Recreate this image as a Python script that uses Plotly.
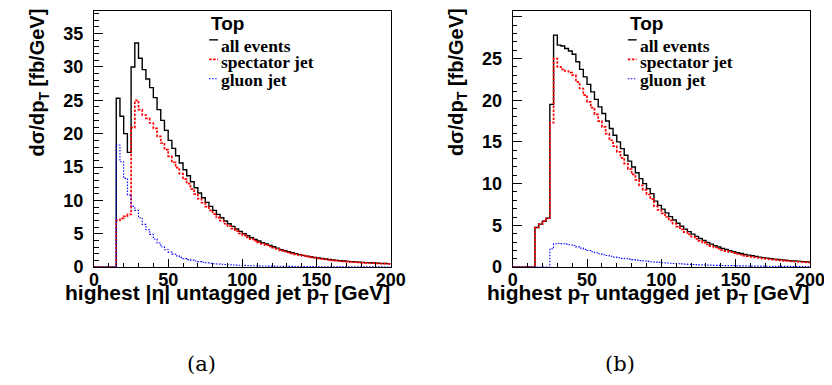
import numpy as np
import plotly.graph_objects as go

# ---------------- data (2.5 GeV bins, 0-200 GeV) ----------------
bin_width = 2.5
bin_edges = np.arange(0, 200 + bin_width, bin_width)  # 81 edges

# (a) highest |eta| untagged jet pT
all_a = [0, 0, 0, 0, 0, 0, 25.3, 22.6, 20.0, 17.2,
         30.0, 33.6, 31.3, 29.6, 28.2, 26.9, 25.4, 23.6, 22.0, 20.5,
         19.0, 17.8, 16.7, 15.6, 14.6, 13.7, 12.8, 11.9, 11.1, 10.4,
         9.7, 9.1, 8.5, 7.9, 7.4, 6.9, 6.5, 6.1, 5.7, 5.35,
         5.0, 4.7, 4.4, 4.15, 3.9, 3.65, 3.45, 3.25, 3.05, 2.85,
         2.6, 2.45, 2.3, 2.15, 2.0, 1.87, 1.75, 1.64, 1.54, 1.45,
         1.37, 1.29, 1.21, 1.14, 1.07, 1.01, 0.96, 0.91, 0.86, 0.82,
         0.78, 0.74, 0.71, 0.67, 0.64, 0.61, 0.58, 0.56, 0.54, 0.52]
spect_a = [0, 0, 0, 0, 0, 0, 7.0, 7.3, 7.6, 7.9,
           20.9, 25.0, 23.6, 22.8, 22.3, 21.6, 20.8, 19.6, 18.6, 17.6,
           16.6, 15.7, 14.9, 14.0, 13.2, 12.5, 11.7, 10.95, 10.25, 9.65,
           9.05, 8.5, 7.95, 7.42, 6.96, 6.5, 6.13, 5.76, 5.39, 5.06,
           4.74, 4.45, 4.18, 3.93, 3.7, 3.47, 3.28, 3.09, 2.9, 2.72,
           2.48, 2.34, 2.2, 2.05, 1.91, 1.78, 1.67, 1.56, 1.47, 1.38,
           1.31, 1.23, 1.15, 1.09, 1.02, 0.96, 0.91, 0.87, 0.82, 0.78,
           0.74, 0.7, 0.67, 0.64, 0.61, 0.58, 0.55, 0.53, 0.51, 0.49]
gluon_a = [0, 0, 0, 0, 0, 0, 18.3, 15.8, 13.3, 10.8,
           9.1, 8.5, 7.4, 6.4, 5.6, 4.9, 4.2, 3.6, 3.05, 2.6,
           2.25, 1.95, 1.68, 1.45, 1.27, 1.12, 1.05, 0.92, 0.82, 0.72,
           0.64, 0.57, 0.51, 0.46, 0.42, 0.38, 0.35, 0.32, 0.29, 0.27,
           0.25, 0.23, 0.21, 0.2, 0.18, 0.17, 0.16, 0.15, 0.14, 0.13,
           0.12, 0.11, 0.1, 0.1, 0.09, 0.09, 0.08, 0.08, 0.07, 0.07,
           0.06, 0.06, 0.06, 0.05, 0.05, 0.05, 0.05, 0.04, 0.04, 0.04,
           0.04, 0.04, 0.03, 0.03, 0.03, 0.03, 0.03, 0.03, 0.02, 0.02]

# (b) highest pT untagged jet pT
all_b = [0, 0, 0, 0, 0, 0, 4.75, 5.15, 5.5, 5.85,
         19.5, 27.8, 26.6, 26.5, 26.2, 25.9, 25.5, 24.6, 23.7, 22.8,
         21.9, 21.0, 20.1, 19.2, 18.4, 17.5, 16.6, 15.8, 15.0, 14.2,
         13.4, 12.7, 12.0, 11.3, 10.6, 10.0, 9.4, 8.8, 7.9, 7.4,
         6.95, 6.5, 6.05, 5.65, 5.25, 4.9, 4.55, 4.25, 3.95, 3.68,
         3.42, 3.18, 2.95, 2.75, 2.56, 2.4, 2.24, 2.1, 1.96, 1.84,
         1.72, 1.62, 1.52, 1.43, 1.35, 1.27, 1.2, 1.13, 1.07, 1.01,
         0.96, 0.91, 0.86, 0.82, 0.78, 0.74, 0.71, 0.68, 0.65, 0.62]
spect_b = [0, 0, 0, 0, 0, 0, 4.75, 5.15, 5.5, 5.85,
           17.3, 25.0, 24.0, 23.7, 23.5, 23.3, 23.0, 22.2, 21.4, 20.6,
           19.8, 19.1, 18.3, 17.5, 16.8, 16.0, 15.2, 14.5, 13.8, 13.1,
           12.4, 11.75, 11.1, 10.45, 9.8, 9.25, 8.7, 8.15, 7.3, 6.85,
           6.43, 6.0, 5.59, 5.22, 4.85, 4.52, 4.2, 3.92, 3.64, 3.39,
           3.15, 2.92, 2.71, 2.52, 2.35, 2.2, 2.05, 1.92, 1.79, 1.68,
           1.57, 1.48, 1.38, 1.3, 1.22, 1.15, 1.09, 1.02, 0.97, 0.91,
           0.87, 0.82, 0.78, 0.74, 0.7, 0.67, 0.64, 0.61, 0.58, 0.56]
gluon_b = [0, 0, 0, 0, 0, 0, 0, 0, 0, 0,
           2.2, 2.8, 2.85, 2.8, 2.75, 2.68, 2.58, 2.42, 2.27, 2.12,
           1.98, 1.84, 1.71, 1.59, 1.48, 1.38, 1.29, 1.2, 1.12, 1.05,
           1.0, 0.95, 0.89, 0.83, 0.78, 0.73, 0.68, 0.64, 0.6, 0.56,
           0.52, 0.49, 0.46, 0.43, 0.4, 0.38, 0.35, 0.33, 0.31, 0.29,
           0.27, 0.26, 0.24, 0.23, 0.21, 0.2, 0.19, 0.18, 0.17, 0.16,
           0.15, 0.14, 0.14, 0.13, 0.12, 0.12, 0.11, 0.11, 0.1, 0.1,
           0.09, 0.09, 0.08, 0.08, 0.08, 0.07, 0.07, 0.07, 0.06, 0.06]

series_names = ["all events", "spectator jet", "gluon jet"]
x_titles = ["highest |η| untagged jet p<sub>T</sub> [GeV]",
            "highest p<sub>T</sub> untagged jet p<sub>T</sub> [GeV]"]
y_title = "dσ/dp<sub>T</sub> [fb/GeV]"
panel_tags = ["(a)", "(b)"]
legend_header = "Top"
x_ticks = [0, 50, 100, 150, 200]

# ---------------- layout helpers ----------------
W, H = 832, 385
def px(x):
    return x / W
def py(y):
    return 1 - y / H

SANS = "Liberation Sans, Arial, sans-serif"
SERIF = "Liberation Serif, Times New Roman, serif"
CMSERIF = "DejaVu Serif, serif"

styles = [dict(color="black", width=1.4),
          dict(color="#ff0000", width=1.7, dash="2.5px,1.5px"),
          dict(color="#0000ff", width=1.1, dash="1.5px,1.5px")]

fig = go.Figure()
panels = [(all_a, spect_a, gluon_a), (all_b, spect_b, gluon_b)]
for p, vals in enumerate(panels):
    xa = "x" if p == 0 else "x2"
    ya = "y" if p == 0 else "y2"
    for s, v in enumerate(vals):
        fig.add_trace(go.Scatter(
            x=bin_edges, y=list(v) + [v[-1]], mode="lines",
            line=dict(shape="hv", **styles[s]),
            name=series_names[s], showlegend=False,
            xaxis=xa, yaxis=ya, hoverinfo="skip"))

frame_l = [83, 512]
frame_r = [387, 816.7]
top_px, bot_px = 3, 266
y_max = [38.4, 30.7]

axis_common = dict(showline=True, linecolor="black", linewidth=1, mirror=True,
                   ticks="inside", tickcolor="black", showgrid=False, zeroline=False,
                   tickfont=dict(family=SANS, size=18, color="black", weight="bold"))

layout = dict(width=W, height=H, margin=dict(l=0, r=0, t=0, b=0),
              paper_bgcolor="white", plot_bgcolor="white", showlegend=False)
for p in range(2):
    sx = "" if p == 0 else "2"
    layout["xaxis" + sx] = dict(axis_common, domain=[px(frame_l[p]), px(frame_r[p])],
                                range=[0, 200], tickvals=x_ticks, ticklen=8, tickwidth=1,
                                minor=dict(dtick=10, ticklen=4, ticks="inside", tickcolor="black"),
                                anchor="y" + sx, ticklabelstandoff=-4)
    layout["yaxis" + sx] = dict(axis_common, domain=[py(bot_px), py(top_px)],
                                range=[0, y_max[p]], dtick=5, ticklen=9, tickwidth=1,
                                minor=dict(dtick=1, ticklen=4.5, ticks="inside", tickcolor="black"),
                                anchor="x" + sx, ticklabelstandoff=6)
fig.update_layout(**layout)

ann = []
shapes = []
legend_x = [201, 630]
for p in range(2):
    # y title
    ann.append(dict(text=y_title, textangle=-90, x=px(frame_l[p] - 57), y=py(-2),
                    xref="paper", yref="paper", xanchor="center", yanchor="top",
                    showarrow=False, font=dict(family=SANS, size=20, color="black", weight="bold")))
    # x title
    ann.append(dict(text=x_titles[p], x=px(frame_r[p] + 1), y=py(278),
                    xref="paper", yref="paper", xanchor="right", yanchor="top",
                    showarrow=False, font=dict(family=SANS, size=21, color="black", weight="bold")))
    # panel tag
    ann.append(dict(text=panel_tags[p], x=px([193, 622][p]), y=py(365),
                    xref="paper", yref="paper", xanchor="center", yanchor="middle",
                    showarrow=False, font=dict(family=CMSERIF, size=21, color="black")))
    # legend header
    lx = legend_x[p]
    ann.append(dict(text=legend_header, x=px(lx), y=py(16), xref="paper", yref="paper",
                    xanchor="left", yanchor="middle", showarrow=False,
                    font=dict(family=SANS, size=19, color="black", weight="bold")))
    for s, name in enumerate(series_names):
        yy = [39, 55.5, 74][s]
        ann.append(dict(text=name, x=px(lx + 10), y=py(yy), xref="paper", yref="paper",
                        xanchor="left", yanchor="middle", showarrow=False,
                        font=dict(family=SERIF, size=17.5, color="black", weight="bold")))
        st = styles[s]
        sy = [32.7, 52.7, 72.7][s]
        shapes.append(dict(type="line", xref="paper", yref="paper",
                           x0=px(lx), x1=px(lx + 9), y0=py(sy), y1=py(sy),
                           line=dict(color=st["color"], width=st["width"], dash=st.get("dash", "solid"))))
fig.update_layout(annotations=ann, shapes=shapes)

fig.write_html("out.html")
